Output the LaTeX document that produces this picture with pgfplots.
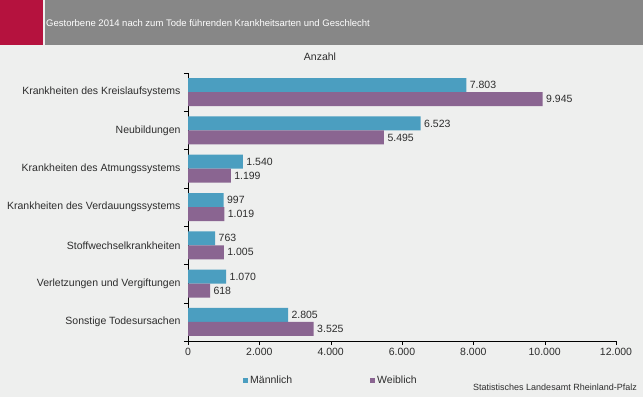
\documentclass[border=0pt]{standalone}
\usepackage{pgfplots}
\pgfplotsset{compat=1.18}
\usepackage{fontspec}
\setmainfont{Liberation Sans}
\definecolor{bg}{RGB}{238,239,238}
\definecolor{titlegray}{RGB}{135,135,135}
\definecolor{titlered}{RGB}{181,18,62}
\definecolor{mblue}{RGB}{75,158,192}
\definecolor{wpurple}{RGB}{138,101,145}
\definecolor{txt}{RGB}{45,45,45}
\begin{document}
\begin{tikzpicture}
\path[use as bounding box] (0,0) rectangle (643bp,-397bp);
\fill[bg] (0,0) rectangle (643bp,-397bp);
\fill[titlered] (0,0) rectangle (43bp,-45bp);
\fill[titlegray] (45bp,0) rectangle (643bp,-45bp);
\node[anchor=west, text=white, font=\fontsize{9.5bp}{12bp}\selectfont, inner sep=0pt] at (46bp,-23bp) {Gestorbene 2014 nach zum Tode führenden Krankheitsarten und Geschlecht};
\node[text=txt, font=\fontsize{10.5bp}{12bp}\selectfont, inner sep=0pt] at (320bp,-57bp) {Anzahl};
\node[anchor=east, text=txt, font=\fontsize{9bp}{10bp}\selectfont, inner sep=0pt] at (637bp,-387bp) {Statistisches Landesamt Rheinland-Pfalz};
\begin{axis}[
  at={(188bp,-341bp)}, anchor=south west,
  scale only axis, width=428bp, height=268bp,
  xmin=0, xmax=12000, ymin=-0.5, ymax=6.5, y dir=reverse,
  xbar, bar width=14bp,
  axis x line=bottom, axis y line=left, axis line style={-, black},
  tick align=outside,
  major tick length=4bp,
  xtick={0,2000,...,12000},
  scaled x ticks=false,
  ytick={-0.5,0.5,...,6.5},
  yticklabels={},
  extra y ticks={0,...,6},
  extra y tick labels={Krankheiten des Kreislaufsystems, Neubildungen, Krankheiten des Atmungssystems, Krankheiten des Verdauungssystems, Stoffwechselkrankheiten, Verletzungen und Vergiftungen, Sonstige Todesursachen},
  extra y tick style={major tick length=0pt, yticklabel style={xshift=-4bp}},
  tick style={black},
  ticklabel style={font=\fontsize{10.5bp}{12bp}\selectfont, text=txt},
  point meta=x,
  nodes near coords={\pgfmathprintnumber{\pgfplotspointmeta}},
  every node near coord/.append style={font=\fontsize{10.5bp}{12bp}\selectfont, text=txt},
  legend style={at={(axis description cs:0.1285,-0.1455)}, anchor=west, draw=none, fill=none, legend columns=2, font=\fontsize{10.5bp}{12bp}\selectfont, text=txt, inner sep=0pt, /tikz/every even column/.append style={column sep=76bp}},
  legend image code/.code={\fill[#1] (0bp,-2.5bp) rectangle (5bp,2.5bp);},
  /pgf/number format/.cd, 1000 sep={.}, assume math mode=true
]
\addplot[fill=mblue, draw=none, bar shift=7bp] coordinates {(7803,0) (6523,1) (1540,2) (997,3) (763,4) (1070,5) (2805,6)};
\addlegendentry{Männlich}
\addplot[fill=wpurple, draw=none, bar shift=-7bp] coordinates {(9945,0) (5495,1) (1199,2) (1019,3) (1005,4) (618,5) (3525,6)};
\addlegendentry{Weiblich}
\end{axis}
\end{tikzpicture}
\end{document}
